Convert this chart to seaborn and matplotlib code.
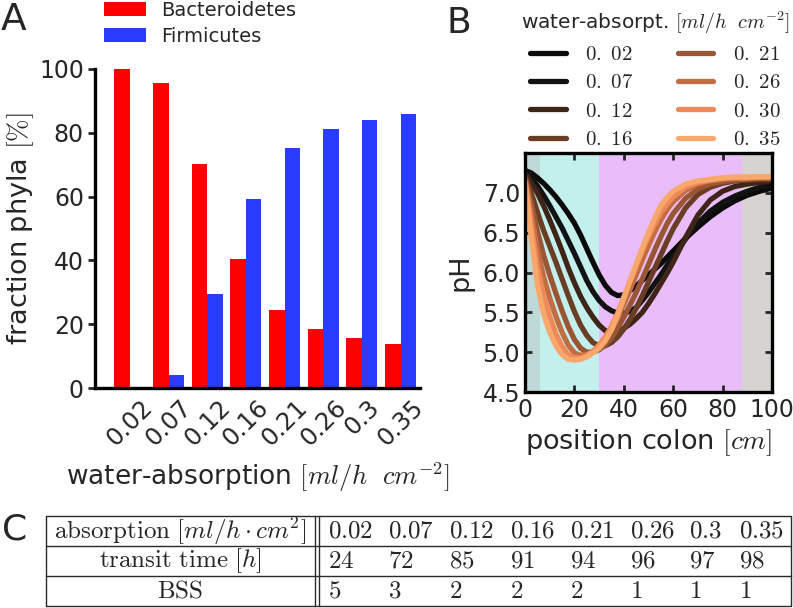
import numpy as np
import pandas as pd
import matplotlib
matplotlib.use("Agg")
import matplotlib.pyplot as plt
import seaborn as sns
from matplotlib.lines import Line2D

# ---------------- Panel A data ----------------
absorption_labels = ["0.02", "0.07", "0.12", "0.16", "0.21", "0.26", "0.3", "0.35"]
bacteroidetes = [100.0, 95.5, 70.2, 40.5, 24.6, 18.6, 15.7, 13.9]
firmicutes = [0.0, 4.2, 29.4, 59.2, 75.2, 81.2, 84.1, 86.0]
phyla = ["Bacteroidetes", "Firmicutes"]
phyla_colors = ["#ff0000", "#2a3cff"]

# ---------------- Panel B data ----------------
position_cm = [0, 2.5, 5, 7.5, 10, 12.5, 15, 17.5, 20, 22.5, 25, 27.5, 30, 32.5,
               35, 37.5, 40, 42.5, 45, 47.5, 50, 52.5, 55, 57.5, 60,
               65, 70, 75, 80, 85, 90, 95, 100]
ph_002 = [7.28, 7.25, 7.19, 7.12, 7.04, 6.95, 6.85, 6.74, 6.62, 6.47, 6.30, 6.13, 5.97, 5.84,
          5.75, 5.71, 5.72, 5.77, 5.83, 5.90, 5.97, 6.04, 6.11, 6.19, 6.27,
          6.43, 6.57, 6.70, 6.81, 6.90, 6.97, 7.02, 7.06]
ph_007 = [7.28, 7.20, 7.09, 6.97, 6.84, 6.70, 6.56, 6.40, 6.24, 6.07, 5.90, 5.76, 5.65, 5.57,
          5.52, 5.49, 5.49, 5.51, 5.56, 5.65, 5.75, 5.86, 5.97, 6.09, 6.20,
          6.42, 6.62, 6.77, 6.88, 6.96, 7.02, 7.07, 7.10]
ph_012 = [7.25, 7.13, 7.00, 6.84, 6.66, 6.47, 6.27, 6.06, 5.87, 5.70, 5.56, 5.44, 5.34, 5.27,
          5.25, 5.26, 5.30, 5.35, 5.42, 5.50, 5.61, 5.73, 5.86, 5.99, 6.13,
          6.44, 6.72, 6.91, 7.02, 7.08, 7.11, 7.13, 7.15]
ph_016 = [7.22, 7.00, 6.76, 6.53, 6.33, 6.13, 5.92, 5.71, 5.51, 5.34, 5.21, 5.12, 5.08, 5.08,
          5.12, 5.19, 5.29, 5.41, 5.55, 5.71, 5.88, 6.05, 6.22, 6.39, 6.55,
          6.81, 6.98, 7.07, 7.12, 7.15, 7.16, 7.17, 7.17]
ph_021 = [7.20, 6.88, 6.52, 6.22, 5.97, 5.74, 5.52, 5.32, 5.16, 5.05, 5.00, 5.00, 5.03, 5.09,
          5.18, 5.30, 5.44, 5.59, 5.75, 5.92, 6.10, 6.28, 6.45, 6.61, 6.74,
          6.93, 7.05, 7.11, 7.14, 7.16, 7.17, 7.18, 7.18]
ph_026 = [7.18, 6.75, 6.30, 5.95, 5.68, 5.45, 5.25, 5.09, 4.99, 4.96, 4.97, 5.01, 5.07, 5.16,
          5.28, 5.43, 5.60, 5.78, 5.97, 6.16, 6.34, 6.51, 6.66, 6.79, 6.89,
          7.03, 7.11, 7.15, 7.17, 7.18, 7.18, 7.19, 7.19]
ph_030 = [7.16, 6.60, 6.08, 5.72, 5.45, 5.23, 5.07, 4.97, 4.93, 4.93, 4.96, 5.01, 5.09, 5.19,
          5.32, 5.49, 5.69, 5.89, 6.08, 6.27, 6.45, 6.61, 6.75, 6.86, 6.95,
          7.07, 7.13, 7.16, 7.18, 7.19, 7.19, 7.20, 7.20]
ph_035 = [7.15, 6.45, 5.85, 5.48, 5.25, 5.08, 4.97, 4.91, 4.90, 4.91, 4.94, 4.99, 5.05, 5.14,
          5.28, 5.46, 5.68, 5.89, 6.10, 6.31, 6.50, 6.68, 6.84, 6.94, 7.02,
          7.11, 7.15, 7.17, 7.19, 7.20, 7.20, 7.20, 7.20]
curve_labels = ["0.02", "0.07", "0.12", "0.16", "0.21", "0.26", "0.30", "0.35"]
curve_values = [ph_002, ph_007, ph_012, ph_016, ph_021, ph_026, ph_030, ph_035]
curve_colors = ["#0a0a0a", "#121212", "#3e2518", "#6a3d25", "#9a5535", "#c26c42", "#ef8a58", "#f9a86c"]
region_edges = [0, 6, 30, 88, 100]
region_colors = ["#bfd9d8", "#c3f0ed", "#eabdfa", "#d6d3d0"]

# ---------------- Table data ----------------
table_absorption = ["0.02", "0.07", "0.12", "0.16", "0.21", "0.26", "0.3", "0.35"]
transit_time = [24, 72, 85, 91, 94, 96, 97, 98]
bss = [5, 3, 2, 2, 2, 1, 1, 1]
row_headers = [r"$\mathrm{absorption}\ [ml/h \cdot cm^2]$",
               r"$\mathrm{transit\ time}\ [h]$",
               r"$\mathrm{BSS}$"]

# ---------------- style ----------------
sns.set_style("ticks")
plt.rcParams["font.family"] = ["DejaVu Sans"]
plt.rcParams["mathtext.fontset"] = "cm"

W, H = 793, 608
fig = plt.figure(figsize=(W / 100, H / 100), dpi=100)


def fx(px):
    return px / W


def fy(py):
    return 1 - py / H


# ---------------- Panel A ----------------
ax_a = fig.add_axes([fx(95), fy(388), fx(420) - fx(95), fy(69) - fy(388)])
df_bar = pd.DataFrame({
    "absorption": absorption_labels * 2,
    "fraction": bacteroidetes + firmicutes,
    "phylum": [phyla[0]] * len(absorption_labels) + [phyla[1]] * len(absorption_labels),
})
sns.barplot(data=df_bar, x="absorption", y="fraction", hue="phylum",
            order=absorption_labels, hue_order=phyla,
            palette=dict(zip(phyla, phyla_colors)), saturation=1,
            width=0.8, errorbar=None, ax=ax_a, linewidth=0)
handles_a, labels_a = ax_a.get_legend_handles_labels()
if ax_a.get_legend() is not None:
    ax_a.get_legend().remove()
ax_a.set_xlim(-0.9, 7.5)
ax_a.set_ylim(0, 100)
ax_a.set_yticks([0, 20, 40, 60, 80, 100])
for s in ["top", "right"]:
    ax_a.spines[s].set_visible(False)
for s in ["left", "bottom"]:
    ax_a.spines[s].set_linewidth(2.4)
    ax_a.spines[s].set_color("black")
ax_a.tick_params(axis="y", direction="out", length=5, width=2, labelsize=17, pad=3)
ax_a.tick_params(axis="x", length=0, labelsize=17.5, pad=5)
for lab in ax_a.get_xticklabels():
    lab.set_rotation(45)
ax_a.set_ylabel(r"fraction phyla $[\%]$", fontsize=19.5, labelpad=2)
ax_a.set_xlabel(r"water-absorption $[ml/h\ \ cm^{-2}]$", fontsize=19, labelpad=7)
fig.legend(handles_a, labels_a, loc="upper left", bbox_to_anchor=(fx(104), fy(1)),
           frameon=False, fontsize=14, handlelength=2.15, handleheight=0.72,
           handletextpad=0.8, labelspacing=0.35, borderpad=0, borderaxespad=0)

# ---------------- Panel B ----------------
ax_b = fig.add_axes([fx(525), fy(392), fx(772) - fx(525), fy(153) - fy(392)])
for i in range(len(region_colors)):
    ax_b.axvspan(region_edges[i], region_edges[i + 1], color=region_colors[i], lw=0, zorder=0)
rows = []
for lab, vals in zip(curve_labels, curve_values):
    for x, v in zip(position_cm, vals):
        rows.append((lab, x, v))
df_ph = pd.DataFrame(rows, columns=["absorption", "position", "pH"])
sns.lineplot(data=df_ph, x="position", y="pH", hue="absorption", hue_order=curve_labels,
             palette=dict(zip(curve_labels, curve_colors)), estimator=None, sort=False,
             lw=3.8, ax=ax_b, legend=False)
for ln in ax_b.get_lines():
    ln.set_solid_joinstyle("round")
    ln.set_solid_capstyle("butt")
ax_b.set_xlim(0, 100)
ax_b.set_ylim(4.5, 7.5)
ax_b.set_xticks([0, 20, 40, 60, 80, 100])
ax_b.set_yticks([4.5, 5.0, 5.5, 6.0, 6.5, 7.0])
ax_b.set_yticklabels(["4.5", "5.0", "5.5", "6.0", "6.5", "7.0"])
for s in ax_b.spines.values():
    s.set_linewidth(2.4)
    s.set_color("black")
ax_b.tick_params(direction="in", length=5, width=2, top=True, right=True, labelsize=17)
ax_b.tick_params(axis="x", pad=4)
ax_b.set_xlabel(r"position colon $[cm]$", fontsize=19.5, labelpad=4)
ax_b.set_ylabel("pH", fontsize=19.5, labelpad=6)
ax_b.set_zorder(2)

handles_b = [Line2D([0], [0], color=c, lw=3.8) for c in curve_colors]
labels_b = ["$" + lab.replace(".", r".\ ") + "$" for lab in curve_labels]
fig.legend(handles_b, labels_b, loc="upper left", bbox_to_anchor=(fx(521), fy(9)), ncol=2,
           frameon=False, fontsize=15, handlelength=1.7, handletextpad=0.95,
           columnspacing=2.1, labelspacing=0.4, borderpad=0, borderaxespad=0,
           title=r"water-absorpt. $[ml/h\ \ cm^{-2}]$", title_fontsize=14.5)

# ---------------- Panel C: table ----------------
ax_t = fig.add_axes([fx(46), fy(606), fx(791) - fx(46), fy(516) - fy(606)])
ax_t.set_xlim(0, 745)
ax_t.set_ylim(0, 90)
ax_t.axis("off")
lc = "#2a2a2a"
lw_t = 1.0
ax_t.plot([0, 745, 745, 0, 0], [0, 0, 90, 90, 0], color=lc, lw=lw_t, clip_on=False)
for yy in [30, 60]:
    ax_t.plot([0, 745], [yy, yy], color=lc, lw=lw_t, clip_on=False)
for xx in [269, 273]:
    ax_t.plot([xx, xx], [0, 90], color=lc, lw=lw_t, clip_on=False)
col_x = [282, 342, 403, 464, 524, 584, 643, 693]
row_y = [75, 45, 15]
for hdr, yy in zip(row_headers, row_y):
    ax_t.text(134, yy, hdr, ha="center", va="center", fontsize=18)
table_rows = [table_absorption, [str(v) for v in transit_time], [str(v) for v in bss]]
for vals, yy in zip(table_rows, row_y):
    for xx, v in zip(col_x, vals):
        ax_t.text(xx, yy, "$" + v + "$", ha="left", va="center", fontsize=18)

# ---------------- Panel labels ----------------
fig.text(fx(1), fy(2), "A", fontsize=27, ha="left", va="top")
fig.text(fx(446), fy(6), "B", fontsize=26, ha="left", va="top")
fig.text(fx(2), fy(512), "C", fontsize=26, ha="left", va="top")

fig.savefig("out.png", dpi=100)
